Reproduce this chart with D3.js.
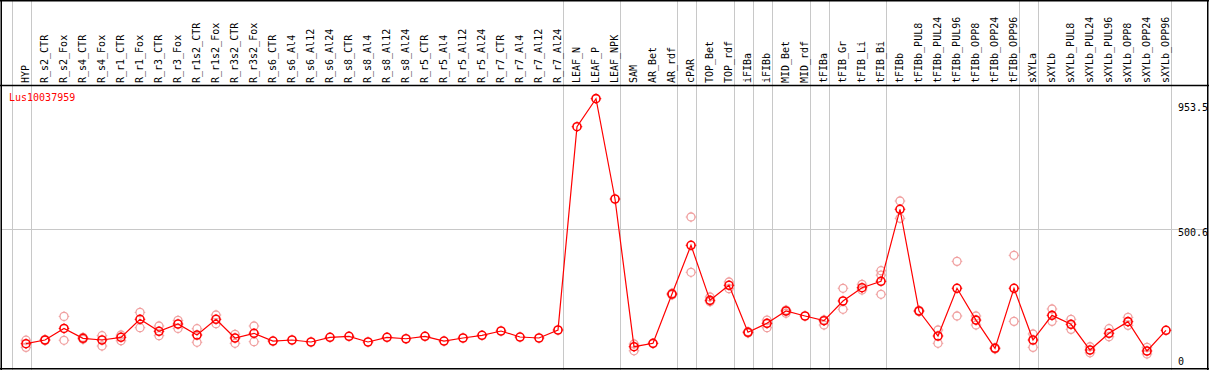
<!DOCTYPE html>
<html>
<head>
<meta charset="utf-8">
<script src="https://cdn.jsdelivr.net/npm/d3@7"></script>
<style>
  body { margin: 0; background: #fff; }
  text { font-family: "DejaVu Sans Mono", monospace; font-size: 10px; }
</style>
</head>
<body>
<script>
const w = 1209;
const h = 370;

const geneName = 'Lus10037959';

const categories = ['HYP','R_s2_CTR','R_s2_Fox','R_s4_CTR','R_s4_Fox','R_r1_CTR','R_r1_Fox','R_r3_CTR','R_r3_Fox',
  'R_r1s2_CTR','R_r1s2_Fox','R_r3s2_CTR','R_r3s2_Fox','R_s6_CTR','R_s6_Al4','R_s6_Al12','R_s6_Al24',
  'R_s8_CTR','R_s8_Al4','R_s8_Al12','R_s8_Al24','R_r5_CTR','R_r5_Al4','R_r5_Al12','R_r5_Al24',
  'R_r7_CTR','R_r7_Al4','R_r7_Al12','R_r7_Al24','LEAF_N','LEAF_P','LEAF_NPK','SAM','AR_Bet','AR_rdf',
  'cPAR','TOP_Bet','TOP_rdf','iFIBa','iFIBb','MID_Bet','MID_rdf','tFIBa','tFIB_Gr','tFIB_Li','tFIB_Bi',
  'tFIBb','tFIBb_PUL8','tFIBb_PUL24','tFIBb_PUL96','tFIBb_OPP8','tFIBb_OPP24','tFIBb_OPP96',
  'sXYLa','sXYLb','sXYLb_PUL8','sXYLb_PUL24','sXYLb_PUL96','sXYLb_OPP8','sXYLb_OPP24','sXYLb_OPP96'];

// first category of each sample group (gray separators)
const groupStarts = ['HYP','R_s2_CTR','LEAF_N','SAM','cPAR','TOP_Bet','iFIBa','iFIBb','MID_Bet',
  'tFIBa','tFIB_Gr','tFIBb','sXYLa','sXYLb'];

const meanValues = [98.7,111.6,152,117.5,111.6,121,183.8,142,167.4,
  129,183.8,118.6,135,108,111.6,104.7,121,
  124.5,104.7,121,116,124.5,108,118.6,128,
  143,122,118.6,146.5,855.7,953.5,603.5,88.3,100,272,
  442,250,302.4,138.5,169.8,212.8,195.4,179,247.7,294,316.4,
  567.6,212.8,125.6,292,181,82.6,292,
  111.6,197.6,166.3,76.7,135,175.6,73.3,145.5];

const rep1 = [111,113,194,121,126.7,129,208,160.5,180,
  151,198.8,131.5,160.5,null,null,null,null,
  null,null,null,null,null,null,null,null,
  null,null,null,null,null,null,null,97.7,null,275,
  540.7,261.6,314,141,181,216,null,182,292,306,353.4,
  596.5,215,146.5,386,195.4,85,407,
  132.6,219.8,183.8,88,151,190.6,86,null];

const rep2 = [86,110,110.6,114,90.7,109,154.6,126.7,152,
  103.6,168.5,100,105.7,null,null,null,null,
  null,null,null,null,null,null,null,null,
  null,null,null,null,null,null,null,74,null,269,
  347.7,245,290.7,136,154.6,205,null,164,218.7,286,271,
  536,211,100,195.4,164,80,176.7,
  86,176.7,148.8,67,123,162.7,62.8,null];

const rep3 = categories.map(c => c === 'tFIB_Bi' ? 338 : null);

const yTicks = [953.5, 500.6, 0];
const yMax = 1001.2;

const x = d3.scaleBand().domain(categories).range([11.7, 1170.7]);
const px = (c) => x(c) + 14.3;
const y = d3.scaleLinear().domain([0, yMax]).range([372, 85]);

const svg = d3.select('body').append('svg')
  .attr('width', w)
  .attr('height', h);

svg.append('rect').attr('width', w).attr('height', h).attr('fill', '#fff');

// group separators
svg.selectAll('line.sep')
  .data(groupStarts.map(c => x(c)).concat([x.range()[1]]))
  .enter().append('line')
  .attr('class', 'sep')
  .attr('x1', d => Math.round(d) + 0.5).attr('x2', d => Math.round(d) + 0.5)
  .attr('y1', 0).attr('y2', h)
  .attr('stroke', '#c8c8c8');

// mid grid line
svg.append('line')
  .attr('x1', 1).attr('x2', 1207)
  .attr('y1', Math.round(y(yMax / 2)) + 0.5).attr('y2', Math.round(y(yMax / 2)) + 0.5)
  .attr('stroke', '#c8c8c8');

// category labels
svg.selectAll('text.cat')
  .data(categories)
  .enter().append('text')
  .attr('class', 'cat')
  .attr('transform', d => `translate(${px(d) + 2.5},83) rotate(-90)`)
  .attr('fill', '#000')
  .text(d => d);

// frame
const frame = svg.append('g').attr('stroke', '#000').attr('stroke-width', 1.5);
frame.append('line').attr('x1', 0).attr('x2', w).attr('y1', 0.75).attr('y2', 0.75);
frame.append('line').attr('x1', 0).attr('x2', w).attr('y1', 85.5).attr('y2', 85.5);
frame.append('line').attr('x1', 0).attr('x2', w).attr('y1', 368.75).attr('y2', 368.75);
frame.append('line').attr('x1', 1.25).attr('x2', 1.25).attr('y1', 0).attr('y2', h);
frame.append('line').attr('x1', 1207.75).attr('x2', 1207.75).attr('y1', 0).attr('y2', h);

// tick labels on the right
svg.selectAll('text.tick')
  .data(yTicks)
  .enter().append('text')
  .attr('class', 'tick')
  .attr('x', 1178)
  .attr('y', d => Math.min(y(d) + (d === yTicks[0] ? 12 : 7), 365))
  .attr('fill', '#000')
  .text(d => d);

svg.append('text')
  .attr('x', 9)
  .attr('y', 100.5)
  .attr('fill', '#ff0000')
  .text(geneName);

function marker(g, color, sw) {
  const r = 4;
  g.append('circle').attr('r', r).attr('fill', 'none').attr('stroke', color).attr('stroke-width', sw);
  [[0, -1], [0, 1], [-1, 0], [1, 0]].forEach(([dx, dy]) => {
    g.append('line')
      .attr('x1', dx * r).attr('y1', dy * r)
      .attr('x2', dx * (r + 1.3)).attr('y2', dy * (r + 1.3))
      .attr('stroke', color).attr('stroke-width', 1);
  });
}

// replicates
const reps = [];
[rep1, rep2, rep3].forEach(arr => arr.forEach((v, i) => { if (v != null) reps.push([categories[i], v]); }));
svg.selectAll('g.rep')
  .data(reps)
  .enter().append('g')
  .attr('class', 'rep')
  .attr('transform', d => `translate(${px(d[0])},${y(d[1])})`)
  .each(function() { marker(d3.select(this), '#f0a0a0', 1.3); });

// mean line
const line = d3.line()
  .x((d, i) => px(categories[i]))
  .y(d => y(d));
svg.append('path')
  .attr('d', line(meanValues))
  .attr('fill', 'none')
  .attr('stroke', '#ff0000')
  .attr('stroke-width', 1.2);

svg.selectAll('g.mean')
  .data(meanValues)
  .enter().append('g')
  .attr('class', 'mean')
  .attr('transform', (d, i) => `translate(${px(categories[i])},${y(d)})`)
  .each(function() { marker(d3.select(this), '#ff0000', 1.6); });
</script>
</body>
</html>
